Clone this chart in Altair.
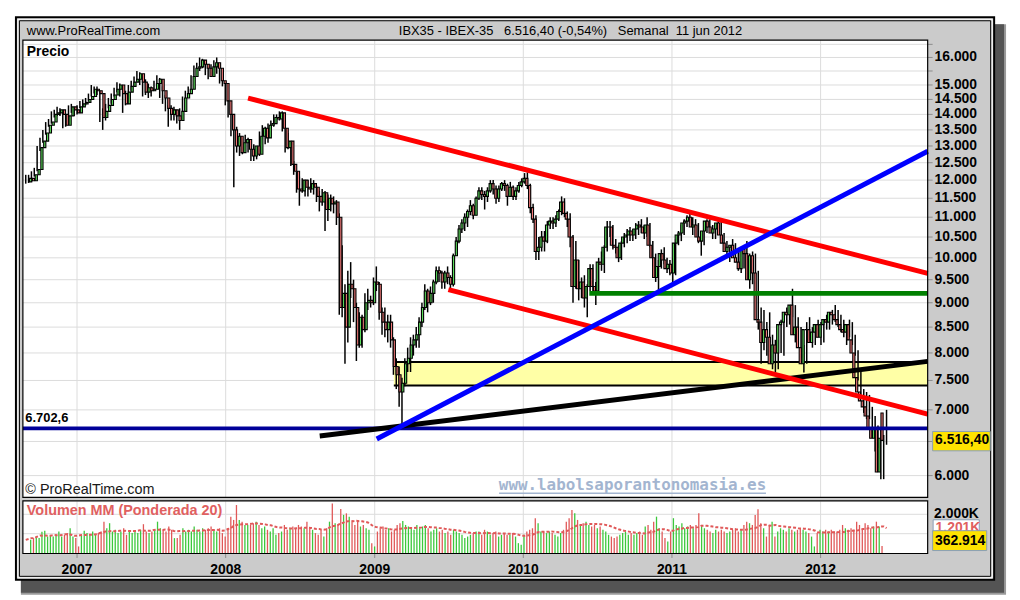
import altair as alt
import numpy as np
import pandas as pd

# ---------------- data (weekly IBEX-35) ----------------
first_week = "2006-08-28"

opens = [
    11950, 12050, 11980, 12150, 12300, 12950, 13150, 13400, 13650, 13750,
    14000, 14050, 14150, 14000, 13650, 13950, 14250, 14150, 14050, 14250,
    14350, 14400, 14500, 14600, 14850, 14800, 14700, 13900, 14100, 14300,
    14500, 14650, 14850, 15000, 14700, 14350, 14750, 14950, 15100, 15200,
    15400, 15100, 14750, 14900, 14800, 14850, 15050, 15200, 14800, 14550,
    14200, 14000, 14150, 13950, 13800, 14100, 14550, 14700, 14850, 15300,
    15600, 15650, 15900, 15750, 15600, 15300, 15650, 15800, 15600, 15150,
    15050, 14450, 14000, 13500, 13000, 13300, 12800, 13100, 13200, 12900,
    12700, 13000, 12750, 13300, 13550, 13250, 13650, 13700, 13900, 13850,
    14050, 13550, 12950, 13150, 12450, 12250, 11750, 11700, 12000, 11800,
    11750, 11900, 11800, 11550, 11400, 11650, 11200, 11500, 11350, 11400,
    11000, 8900, 9200, 8500, 9400, 9300, 8900, 8150, 8700, 8450,
    9000, 9050, 9000, 9450, 9400, 8800, 8600, 8450, 8600, 8250,
    7750, 7600, 7300, 7450, 7800, 7900, 8150, 8250, 8350, 8600,
    8900, 9250, 9000, 9200, 9450, 9700, 9650, 9450, 9650, 9550,
    9400, 10050, 10400, 10700, 10850, 11000, 11150, 11300, 11050, 11500,
    11700, 11600, 11550, 11700, 11900, 11750, 11500, 11750, 11900, 11850,
    11550, 11800, 11550, 11700, 11850, 11950, 12050, 11850, 11250, 10950,
    10150, 10250, 10500, 10400, 10800, 10900, 10850, 10950, 11150, 11400,
    11100, 10950, 10500, 9350, 9950, 9300, 9450, 9100, 9350, 9750,
    9350, 9250, 9900, 9850, 10250, 10750, 10750, 10300, 10250, 10000,
    10350, 10500, 10550, 10650, 10550, 10700, 10800, 10750, 10600, 10800,
    10300, 10000, 9550, 9800, 10100, 9950, 9750, 9850, 9650, 10350,
    10550, 10600, 10850, 10900, 11000, 10750, 10800, 10500, 10400, 10650,
    10900, 10750, 10600, 10700, 10850, 10550, 10350, 10150, 10250, 10300,
    10000, 9900, 9750, 10200, 10100, 9500, 10050, 9650, 8650, 8600,
    8200, 8450, 8300, 7800, 8150, 8000, 8550, 8600, 8800, 8750,
    8950, 8350, 8500, 8100, 7800, 8450, 8450, 8200, 8400, 8550,
    8300, 8550, 8650, 8600, 8800, 8750, 8650, 8550, 8450, 8400,
    8550, 8250, 8000, 7550, 7300, 7150, 7050, 6900, 6700, 6550,
    6700, 6050, 6950,
]
highs = [
    12150, 12150, 12250, 12350, 13000, 13250, 13500, 13750, 13850, 14100,
    14150, 14250, 14200, 14100, 14000, 14300, 14350, 14200, 14300, 14450,
    14500, 14550, 14700, 15000, 14950, 14950, 14800, 14200, 14350, 14550,
    14700, 14900, 15100, 15050, 14850, 14800, 15000, 15150, 15300, 15500,
    15450, 15300, 15200, 15050, 14950, 15150, 15350, 15250, 14950, 14650,
    14300, 14300, 14250, 14150, 14200, 14600, 14800, 14950, 15350, 15700,
    15800, 16000, 15950, 15900, 15750, 15750, 15900, 16000, 15600, 15300,
    15100, 14500, 14100, 13600, 13600, 13400, 13200, 13350, 13250, 13000,
    13050, 13000, 13450, 13650, 13600, 13700, 13800, 14000, 14000, 14100,
    14100, 13550, 13400, 13150, 12550, 12250, 12100, 12050, 12000, 12000,
    12050, 12000, 11850, 11700, 11750, 11700, 11600, 11600, 11550, 11450,
    11100, 10300, 9400, 9700, 9900, 9500, 9000, 8800, 8750, 9200,
    9300, 9150, 9550, 9800, 9450, 8900, 8900, 8750, 8750, 8300,
    7900, 7750, 7550, 7900, 8100, 8300, 8350, 8500, 8700, 9000,
    9400, 9300, 9350, 9500, 9800, 9800, 9700, 9700, 9800, 9600,
    10100, 10500, 10800, 10950, 11100, 11200, 11450, 11350, 11550, 11800,
    11800, 11700, 11800, 12000, 12000, 11850, 11850, 11950, 12000, 11900,
    11950, 11850, 11800, 11950, 12050, 12200, 12220, 11900, 11350, 11050,
    10500, 10650, 10650, 10900, 11000, 11000, 11050, 11200, 11550, 11500,
    11150, 11100, 10550, 10400, 9950, 9550, 9600, 9400, 9850, 9850,
    9450, 10000, 10150, 10300, 10900, 10900, 10800, 10450, 10300, 10400,
    10600, 10700, 10750, 10700, 10850, 10900, 10950, 10800, 11000, 10850,
    10400, 10100, 9950, 10200, 10250, 10000, 9950, 10000, 10450, 10650,
    10800, 10950, 11050, 11100, 11000, 10950, 10850, 10550, 10700, 10950,
    10950, 10800, 10750, 10950, 10900, 10600, 10400, 10300, 10450, 10350,
    10150, 10000, 10250, 10400, 10100, 10150, 10100, 9700, 8900, 8850,
    8600, 8800, 8350, 8250, 8250, 8650, 8700, 8900, 8900, 9300,
    8950, 8700, 8500, 8150, 8600, 8700, 8500, 8500, 8650, 8600,
    8650, 8750, 8750, 8850, 8950, 8850, 8750, 8650, 8550, 8650,
    8600, 8350, 8050, 7700, 7350, 7300, 7250, 7050, 6900, 6750,
    6700, 6600, 7000,
]
lows = [
    11900, 11920, 11950, 12100, 12250, 12850, 13100, 13350, 13600, 13700,
    13900, 13950, 13950, 13550, 13600, 13900, 14050, 13950, 14000, 14200,
    14250, 14300, 14450, 14600, 14700, 14650, 13750, 13500, 13800, 14200,
    14350, 14600, 14750, 14600, 14050, 14300, 14700, 14800, 14950, 15150,
    15000, 14600, 14650, 14550, 14600, 14800, 14950, 14550, 14350, 14100,
    13600, 13800, 13800, 13700, 13500, 14050, 14450, 14600, 14800, 15200,
    15400, 15500, 15600, 15350, 15200, 15300, 15500, 15400, 15050, 14950,
    14300, 13900, 13300, 11800, 12800, 12700, 12750, 12900, 12800, 12550,
    12550, 12600, 12700, 13200, 13050, 13100, 13550, 13600, 13700, 13800,
    13450, 12800, 12900, 12400, 12150, 11650, 11300, 11650, 11550, 11550,
    11650, 11600, 11400, 11150, 11300, 10650, 10900, 11150, 11100, 10800,
    8750, 8700, 7800, 8200, 9100, 8600, 7850, 8100, 8100, 8400,
    8850, 8900, 8950, 9250, 8650, 8350, 8300, 8200, 8100, 7600,
    7350, 7050, 6702.6, 7400, 7650, 7650, 7950, 8100, 8100, 8500,
    8850, 8800, 8950, 9000, 9400, 9450, 9300, 9300, 9400, 9250,
    9350, 10050, 10350, 10600, 10650, 10750, 11050, 10950, 11050, 11450,
    11450, 11200, 11400, 11650, 11600, 11350, 11400, 11700, 11700, 11300,
    11550, 11450, 11450, 11650, 11800, 11900, 11750, 11100, 10850, 9950,
    9950, 10150, 10150, 10350, 10700, 10700, 10750, 10900, 11050, 11000,
    10750, 10250, 9000, 9300, 9050, 9100, 8900, 8700, 9250, 9250,
    8950, 9200, 9700, 9650, 10150, 10500, 10200, 10100, 9900, 9950,
    10250, 10350, 10400, 10400, 10450, 10550, 10600, 10450, 10500, 10250,
    9800, 9450, 9270, 9750, 9850, 9650, 9600, 9450, 9600, 10300,
    10400, 10550, 10750, 10850, 10550, 10550, 10350, 10050, 10300, 10600,
    10650, 10450, 10450, 10650, 10400, 10200, 10000, 9900, 10100, 9900,
    9700, 9650, 9750, 9950, 9300, 9400, 9600, 8450, 7800, 8050,
    7950, 8200, 7700, 7640, 7700, 8000, 7950, 8500, 8550, 8700,
    8200, 8150, 7900, 7640, 7800, 8250, 8100, 8150, 8300, 8150,
    8200, 8450, 8450, 8550, 8600, 8500, 8400, 8300, 8150, 8300,
    8150, 7950, 7500, 7200, 6950, 6850, 6850, 6650, 6350, 6400,
    5950, 5950, 6450,
]
closes = [
    12050, 11980, 12150, 12300, 12950, 13150, 13400, 13650, 13750, 14000,
    14050, 14150, 14000, 13650, 13950, 14250, 14150, 14050, 14250, 14350,
    14400, 14500, 14600, 14850, 14800, 14700, 13900, 14100, 14300, 14500,
    14650, 14850, 15000, 14700, 14350, 14750, 14950, 15100, 15200, 15400,
    15100, 14750, 14900, 14800, 14850, 15050, 15200, 14800, 14550, 14200,
    14000, 14150, 13950, 13800, 14100, 14550, 14700, 14850, 15300, 15600,
    15650, 15900, 15750, 15600, 15300, 15650, 15800, 15600, 15150, 15050,
    14450, 14000, 13500, 13000, 13300, 12800, 13100, 13200, 12900, 12700,
    13000, 12750, 13300, 13550, 13250, 13650, 13700, 13900, 13850, 14050,
    13550, 12950, 13150, 12450, 12250, 11750, 11700, 12000, 11800, 11750,
    11900, 11800, 11550, 11400, 11650, 11200, 11500, 11350, 11400, 11000,
    8900, 9200, 8500, 9400, 9300, 8900, 8150, 8700, 8450, 9000,
    9050, 9000, 9450, 9400, 8800, 8600, 8450, 8600, 8250, 7750,
    7600, 7300, 7450, 7800, 7900, 8150, 8250, 8350, 8600, 8900,
    9250, 9000, 9200, 9450, 9700, 9650, 9450, 9650, 9550, 9400,
    10050, 10400, 10700, 10850, 11000, 11150, 11300, 11050, 11500, 11700,
    11600, 11550, 11700, 11900, 11750, 11500, 11750, 11900, 11850, 11550,
    11800, 11550, 11700, 11850, 11950, 12050, 11850, 11250, 10950, 10150,
    10250, 10500, 10400, 10800, 10900, 10850, 10950, 11150, 11400, 11100,
    10950, 10500, 9350, 9950, 9300, 9450, 9100, 9350, 9750, 9350,
    9250, 9900, 9850, 10250, 10750, 10750, 10300, 10250, 10000, 10350,
    10500, 10550, 10650, 10550, 10700, 10800, 10750, 10600, 10800, 10300,
    10000, 9550, 9800, 10100, 9950, 9750, 9850, 9650, 10350, 10550,
    10600, 10850, 10900, 11000, 10750, 10800, 10500, 10400, 10650, 10900,
    10750, 10600, 10700, 10850, 10550, 10350, 10150, 10250, 10300, 10000,
    9900, 9750, 10200, 10100, 9500, 10050, 9650, 8650, 8600, 8200,
    8450, 8300, 7800, 8150, 8000, 8550, 8600, 8800, 8750, 8950,
    8350, 8500, 8100, 7800, 8450, 8450, 8200, 8400, 8550, 8300,
    8550, 8650, 8600, 8800, 8750, 8650, 8550, 8450, 8400, 8550,
    8250, 8000, 7550, 7300, 7150, 7050, 6900, 6700, 6550, 6700,
    6050, 6550, 6516.4,
]
volumes_k = [
    680, 770, 850, 770, 1100, 1150, 850, 940, 850, 940,
    1110, 850, 940, 1030, 1280, 850, 770, 340, 940, 1150,
    1030, 940, 1110, 940, 1030, 1110, 1620, 1280, 1540, 1110,
    1200, 1030, 1110, 1280, 940, 1110, 1030, 1110, 1030, 1200,
    1490, 1110, 1030, 1110, 1200, 1620, 1280, 1200, 1110, 1370,
    1200, 770, 770, 940, 1280, 1110, 1200, 1110, 1370, 1200,
    1110, 1280, 1200, 1280, 1370, 1200, 1110, 1280, 1030, 850,
    1280, 1880, 1710, 2480, 1710, 1620, 1450, 1450, 1450, 1540,
    1620, 1450, 1280, 1370, 1200, 1110, 1280, 940, 1030, 1110,
    1450, 1200, 1280, 1370, 1280, 1450, 1370, 1280, 1620, 1280,
    1200, 1030, 940, 1200, 850, 1280, 1620, 2560, 1540, 1450,
    2270, 1970, 2050, 1880, 1620, 1450, 1710, 1370, 1450, 1280,
    1200, 510, 340, 1110, 1280, 1370, 1200, 1280, 1110, 1200,
    1450, 1540, 1650, 1450, 1370, 1280, 1200, 1450, 1280, 1370,
    1450, 1280, 1110, 1200, 1280, 1110, 1200, 1030, 1110, 940,
    1200, 1110, 1030, 940, 770, 850, 940, 1030, 1110, 1110,
    940, 1200, 1110, 940, 1030, 1110, 850, 940, 1030, 940,
    940, 1030, 850, 510, 430, 940, 1110, 1200, 1280, 1800,
    1540, 1110, 1110, 1030, 1110, 1030, 940, 850, 1030, 1200,
    1620, 1800, 2220, 2050, 1710, 1450, 1540, 1620, 1450, 1370,
    1450, 1280, 1370, 1200, 1110, 940, 850, 770, 850, 940,
    1030, 1110, 940, 1030, 940, 1030, 1110, 940, 1370, 1450,
    1200, 1620, 1880, 1280, 1110, 770, 600, 1110, 1800, 1450,
    1370, 1540, 1280, 1370, 1450, 1280, 1450, 2050, 1450, 1280,
    1200, 1110, 1030, 1200, 1110, 1200, 1110, 1030, 1110, 1200,
    1280, 1110, 1200, 1450, 1620, 1540, 1450, 1970, 2260, 1540,
    1280, 850, 1450, 1620, 850, 1110, 1280, 1200, 1110, 1280,
    1200, 1110, 1200, 1280, 1200, 1110, 1030, 850, 340, 1030,
    1200, 1110, 1200, 1110, 1200, 1110, 1110, 1200, 1450, 1280,
    1200, 1280, 1200, 1620, 1450, 1280, 1540, 1450, 1280, 1370,
    1620, 1370, 362.914,
]

# drawn trend lines / zones (date, price pairs)
upper_red_dates = ["2008-02-25", "2012-09-20"]
upper_red_prices = [14545, 9640]
lower_red_dates = ["2009-07-01", "2012-09-20"]
lower_red_prices = [9283, 6932]
blue_dates = ["2009-01-06", "2012-09-20"]
blue_prices = [6538, 12841]
black_dates = ["2008-08-19", "2012-09-20"]
black_prices = [6584, 7843]
green_dates = ["2010-06-12", "2012-09-20"]
green_prices = [9200, 9200]
support_dates = ["2006-08-21", "2012-09-20"]
support_prices = [6702.6, 6702.6]
zone_dates = ["2009-02-17", "2012-09-20"]
zone_prices = [7410, 7830]

grid_prices = [6000, 6500, 7000, 7500, 8000, 8500, 9000, 9500, 10000, 10500, 11000,
               11500, 12000, 12500, 13000, 13500, 14000, 14500, 15000, 15500, 16000, 16500]
axis_prices = [16000, 15000, 14500, 14000, 13500, 13000, 12500, 12000, 11500, 11000,
               10500, 10000, 9500, 9000, 8500, 8000, 7500, 7000, 6000]
axis_texts = ["16.000", "15.000", "14.500", "14.000", "13.500", "13.000", "12.500", "12.000",
              "11.500", "11.000", "10.500", "10.000", "9.500", "9.000", "8.500", "8.000",
              "7.500", "7.000", "6.000"]
year_dates = ["2007-01-01", "2008-01-01", "2009-01-01", "2010-01-01", "2011-01-01", "2012-01-01"]
year_texts = ["2007", "2008", "2009", "2010", "2011", "2012"]
vol_grid_k = [1000, 2000]

# ---------------- tables ----------------
n = len(closes)
dates = pd.date_range(first_week, periods=n, freq="7D").strftime("%Y-%m-%d")
df = pd.DataFrame({"date": dates, "open": opens, "high": highs, "low": lows,
                   "close": closes, "vol": volumes_k})
df["dir"] = np.where(df["close"] >= df["open"], "up", "down")
df["blo"] = df[["open", "close"]].min(axis=1)
df["bhi"] = df[["open", "close"]].max(axis=1)
wts = np.arange(1, 21)
ma = []
for k in range(n):
    seg = np.array(volumes_k[max(0, k - 19):k + 1], dtype=float)
    ww = wts[-len(seg):]
    ma.append(float(np.dot(seg, ww) / ww.sum()))
df["ma"] = ma

def line_df(d, p):
    return pd.DataFrame({"date": d, "price": p})

W, H = 912, 461
XDOM = [alt.DateTime(year=2006, month=8, date=21, utc=True),
        alt.DateTime(year=2012, month=9, date=20, utc=True)]

def X(f="date"):
    return alt.X(f"{f}:T", scale=alt.Scale(type="utc", domain=XDOM), axis=None)

def YP(f="price"):
    return alt.Y(f"{f}:Q", scale=alt.Scale(type="log", domain=[5700, 16665], nice=False), axis=None)

def YV(f):
    return alt.Y(f"{f}:Q", scale=alt.Scale(domain=[0, 2000], range=[517, 478], nice=False), axis=None)

ONE = pd.DataFrame({"k": [0]})
SANS = "Liberation Sans"

def rect(x1, y1, x2, y2, **kw):
    return alt.Chart(ONE).mark_rect(**kw).encode(
        x=alt.value(x1), x2=alt.value(x2), y=alt.value(y1), y2=alt.value(y2))

def label(x, y, s, **kw):
    return alt.Chart(ONE).mark_text(text=s, **kw).encode(x=alt.value(x), y=alt.value(y))

GREEN = "#5cdc5c"
RED = "#f07878"
VGREEN = "#3cc83c"
VRED = "#e05858"

layers = []
# shadow + frame
layers.append(rect(-2, -16, 991, 559, fill="#9a9a9a"))
layers.append(rect(-2, -16, 989, 557, fill="#545454"))
layers.append(rect(-7, -23, 979, 544, fill="#cbcbcb", stroke="black", strokeWidth=2))
layers.append(rect(-5, -21, 977, 542, fill=None, stroke="white", strokeWidth=1))
layers.append(rect(-3.5, -19.5, 975.5, 540.5, fill=None, stroke="black", strokeWidth=1))
# panels
layers.append(rect(0, 0, W, H, fill="white"))
layers.append(rect(0, 464.5, W, 517.5, fill="white"))

# grids
gp = pd.DataFrame({"price": grid_prices})
layers.append(alt.Chart(gp).mark_rule(color="#dcdcdc", strokeWidth=1).encode(
    y=YP(), x=alt.value(0), x2=alt.value(W)))
layers.append(alt.Chart(gp).mark_rule(color="#8c8c8c", strokeWidth=1).encode(
    y=YP(), x=alt.value(W), x2=alt.value(W + 5)))
yd = pd.DataFrame({"date": year_dates, "t": year_texts})
layers.append(alt.Chart(yd).mark_rule(color="#dcdcdc", strokeWidth=1).encode(
    x=X(), y=alt.value(0), y2=alt.value(H)))
layers.append(alt.Chart(yd).mark_rule(color="#dcdcdc", strokeWidth=1).encode(
    x=X(), y=alt.value(465), y2=alt.value(517)))
layers.append(alt.Chart(yd).mark_rule(color="#8c8c8c", strokeWidth=1).encode(
    x=X(), y=alt.value(518), y2=alt.value(522)))
vg = pd.DataFrame({"v": vol_grid_k})
layers.append(alt.Chart(vg).mark_rule(color="#dcdcdc", strokeWidth=1).encode(
    y=YV("v"), x=alt.value(0), x2=alt.value(W)))

# yellow zone
zd = pd.DataFrame({"d1": [zone_dates[0]], "d2": [zone_dates[1]],
                   "p1": [zone_prices[0]], "p2": [zone_prices[1]]})
layers.append(alt.Chart(zd).mark_rect(fill="#ffffa6").encode(
    x=X("d1"), x2="d2:T", y=YP("p1"), y2="p2:Q"))
for p in zone_prices:
    layers.append(alt.Chart(line_df(zone_dates, [p, p])).mark_line(
        color="black", strokeWidth=2).encode(x=X(), y=YP()))

# candles
base = alt.Chart(df)
layers.append(base.mark_rule(color="black", strokeWidth=1.5).encode(
    x=X(), y=YP("low"), y2="high:Q"))
layers.append(base.mark_bar(width=2.2, stroke="black", strokeWidth=1.1).encode(
    x=X(), y=YP("blo"), y2="bhi:Q",
    fill=alt.Fill("dir:N", scale=alt.Scale(domain=["up", "down"], range=[GREEN, RED]), legend=None)))

# trend lines
for d, p, c, w in [
    (support_dates, support_prices, "#000099", 4),
    (green_dates, green_prices, "#008000", 5),
    (black_dates, black_prices, "black", 5),
    (lower_red_dates, lower_red_prices, "#ff0000", 5),
    (upper_red_dates, upper_red_prices, "#ff0000", 5),
    (blue_dates, blue_prices, "#0000ff", 5),
]:
    layers.append(alt.Chart(line_df(d, p)).mark_line(color=c, strokeWidth=w, strokeCap="butt").encode(
        x=X(), y=YP()))

# volume
layers.append(base.mark_bar(width=1.3).encode(
    x=X(), y=YV("vol"),
    color=alt.Color("dir:N", scale=alt.Scale(domain=["up", "down"], range=[VGREEN, VRED]), legend=None)))
layers.append(base.mark_line(color=VRED, strokeWidth=2, strokeDash=[3, 2]).encode(
    x=X(), y=YV("ma")))

# panel borders
layers.append(rect(0, 0, W, H, fill=None, stroke="black", strokeWidth=1.2))
layers.append(rect(0, 464.5, W, 517.5, fill=None, stroke="black", strokeWidth=1.2))

# texts inside panels
layers.append(label(4, 12, "Precio", font=SANS, fontSize=14, fontWeight="bold",
                    align="left", baseline="middle", color="black"))
layers.append(label(2.5, 454, "\u00a9 ProRealTime.com", font=SANS, fontSize=14.5,
                    align="left", baseline="middle", color="#1a1a1a"))
layers.append(label(614.5, 453, "www.labolsaporantonomasia.es", font="DejaVu Sans Mono",
                    fontSize=16, fontWeight="bold", align="center", baseline="alphabetic",
                    color="#a3b5d0"))
layers.append(rect(480, 456, 749, 457.5, fill="#a3b5d0"))
sd = pd.DataFrame({"price": [support_prices[0]], "t": ["6.702,6"]})
layers.append(alt.Chart(sd).mark_text(font=SANS, fontSize=13, fontWeight="bold", align="left",
                                      baseline="middle", dy=-10, color="black").encode(
    x=alt.value(2.5), y=YP(), text="t:N"))
layers.append(label(4, 475, "Volumen MM (Ponderada 20)", font=SANS, fontSize=14.5, fontWeight="bold",
                    align="left", baseline="middle", color="#e06060"))

# right axis labels
ad = pd.DataFrame({"price": axis_prices, "t": axis_texts})
layers.append(alt.Chart(ad).mark_text(font=SANS, fontSize=14, fontWeight="bold", align="left",
                                      baseline="middle", color="black").encode(
    x=alt.value(919), y=YP(), text="t:N"))
layers.append(rect(917, 394.5, 975, 414, fill="#ffe300", stroke="#8a9fb5", strokeWidth=1))
cd = pd.DataFrame({"price": [closes[-1]], "t": ["6.516,40"]})
layers.append(alt.Chart(cd).mark_text(font=SANS, fontSize=14, fontWeight="bold", align="left",
                                      baseline="middle", color="black").encode(
    x=alt.value(919.5), y=YP(), text="t:N"))
v2 = pd.DataFrame({"v": [2000], "t": ["2.000K"]})
layers.append(alt.Chart(v2).mark_text(font=SANS, fontSize=14, fontWeight="bold", align="left",
                                      baseline="middle", color="black").encode(
    x=alt.value(918.5), y=YV("v"), text="t:N"))
layers.append(rect(917.5, 483.5, 964, 496, fill="white", stroke="#8a9fb5", strokeWidth=1))
layers.append(label(920, 491.5, "1.201K", font=SANS, fontSize=14, fontWeight="bold",
                    align="left", baseline="middle", color="#e06060"))
layers.append(rect(917, 494.5, 971.5, 514.5, fill="#ffe300", stroke="#8a9fb5", strokeWidth=1))
layers.append(label(919.5, 505, "362.914", font=SANS, fontSize=14, fontWeight="bold",
                    align="left", baseline="middle", color="black"))

# year labels
layers.append(alt.Chart(yd).mark_text(font=SANS, fontSize=14, fontWeight="bold", align="center",
                                      baseline="middle", color="black").encode(
    x=X(), y=alt.value(534), text="t:N"))

# title bar
layers.append(label(4, -9, "www.ProRealTime.com", font=SANS, fontSize=13,
                    align="left", baseline="middle", color="black"))
layers.append(label(552, -9,
                    "IBX35 - IBEX-35\u00a0\u00a0 6.516,40 (-0,54%)\u00a0\u00a0 Semanal\u00a0 11 jun 2012",
                    font=SANS, fontSize=13, align="center", baseline="middle", color="black"))

chart = alt.layer(*layers).resolve_scale(x="independent", y="independent", color="independent",
                                         fill="independent").properties(
    width=W, height=H,
    padding={"left": 15, "top": 30, "right": 85, "bottom": 101},
    autosize=alt.AutoSizeParams(type="none"),
).configure(background="white").configure_view(stroke=None)

chart.save("out.html", embed_options={"renderer": "svg", "actions": False})
